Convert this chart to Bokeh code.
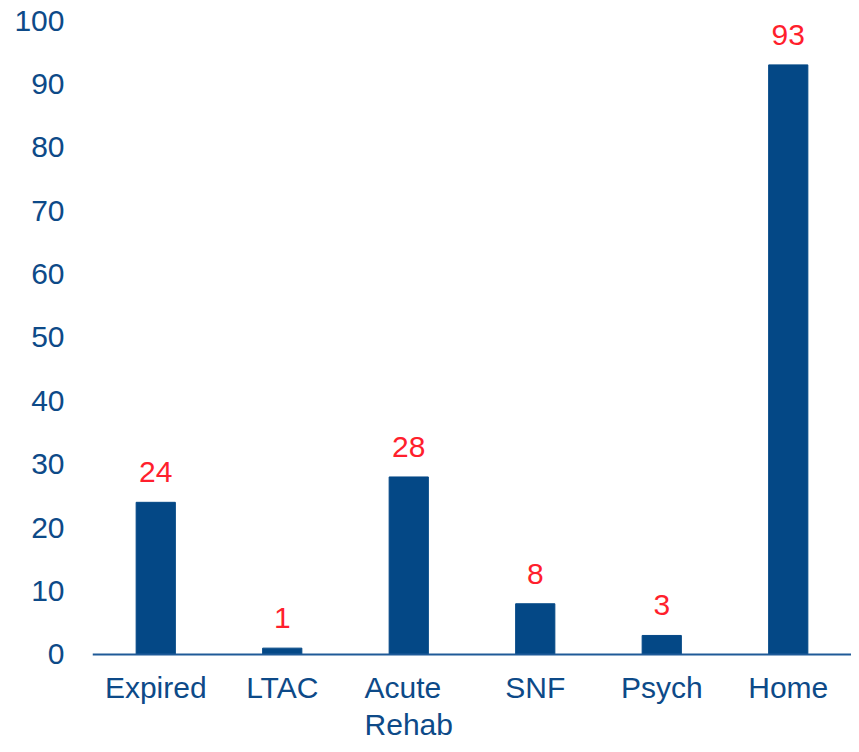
from bokeh.plotting import figure
from bokeh.models import ColumnDataSource, FactorRange, Range1d, LabelSet, FixedTicker, Span
from bokeh.core.properties import value
from bokeh.embed import file_html
from bokeh.resources import INLINE

categories = ["Expired", "LTAC", "Acute\nRehab", "SNF", "Psych", "Home"]
values = [24, 1, 28, 8, 3, 93]
y_ticks = [0, 10, 20, 30, 40, 50, 60, 70, 80, 90, 100]

BAR = "#044886"
TXT = "#0D4A88"
RED = "#FF1F2D"
FONT = "Liberation Sans"

src = ColumnDataSource(dict(cat=categories, val=values, lab=[str(v) for v in values],
                            zero=[0] * len(values)))

# the frame reaches below 0 so that the category labels can sit under the axis line
p = figure(width=851, height=744, x_range=FactorRange(*categories, range_padding=0),
           y_range=Range1d(-14.2, 100), output_backend="svg", toolbar_location=None,
           x_axis_location=None,
           min_border_left=92, min_border_right=0, min_border_top=20, min_border_bottom=0)
p.outline_line_color = None
p.background_fill_color = None
p.border_fill_color = None
p.grid.visible = False

p.vbar(x="cat", top="val", bottom=0, width=0.31, color=BAR, source=src)

# baseline (category axis line) at y = 0
p.add_layout(Span(location=0, dimension="width", line_color="#1F5A98", line_width=2))

labels = LabelSet(x="cat", y="val", text="lab", source=src, text_align="center",
                  text_baseline="alphabetic", y_offset=20, text_color=RED,
                  text_font=value(FONT), text_font_size="30px")
p.add_layout(labels)

cat_labels = LabelSet(x="cat", y="zero", text="cat", source=src, text_align="center",
                      text_baseline="top", y_offset=-17, text_color=TXT,
                      text_font=value(FONT), text_font_size="30px", text_line_height=1.1)
p.add_layout(cat_labels)

p.yaxis.ticker = FixedTicker(ticks=y_ticks)
p.yaxis.axis_line_color = None
p.yaxis.major_tick_line_color = None
p.yaxis.minor_tick_line_color = None
p.yaxis.major_tick_out = 0
p.yaxis.major_tick_in = 0
p.yaxis.major_label_standoff = 28
p.yaxis.major_label_text_font = FONT
p.yaxis.major_label_text_font_size = "30px"
p.yaxis.major_label_text_color = TXT

open("out.html", "w").write(file_html(p, INLINE))
